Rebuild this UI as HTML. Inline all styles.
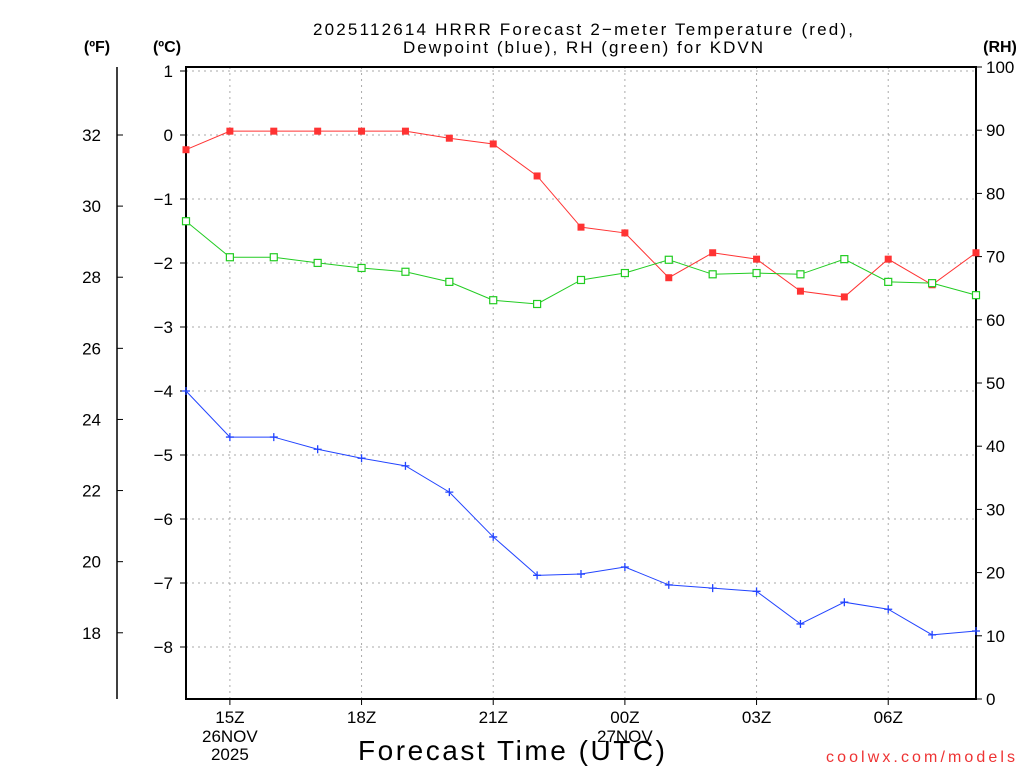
<!DOCTYPE html>
<html><head><meta charset="utf-8">
<style>
html,body{margin:0;padding:0;background:#fff;}
svg{display:block;font-family:"Liberation Sans",sans-serif;}
</style></head>
<body>
<svg id="chart" width="1024" height="768" viewBox="0 0 1024 768" xmlns="http://www.w3.org/2000/svg">
<rect width="1024" height="768" fill="#fff"/>
<g id="grid"></g>
<g id="axes"></g>
<g id="series"></g>
<text x="313" y="35" font-size="17" textLength="540" lengthAdjust="spacing">2025112614 HRRR Forecast 2−meter Temperature (red),</text>
<text x="403" y="53" font-size="17" textLength="360" lengthAdjust="spacing">Dewpoint (blue), RH (green) for KDVN</text>
<text x="97" y="52" font-size="16" font-weight="bold" text-anchor="middle">(ºF)</text>
<text x="167" y="52" font-size="16" font-weight="bold" text-anchor="middle">(ºC)</text>
<text x="1000" y="52" font-size="16" font-weight="bold" text-anchor="middle">(RH)</text>
<text x="358" y="760" font-size="28" textLength="307" lengthAdjust="spacing">Forecast Time (UTC)</text>
<text x="826" y="762" font-size="16" fill="#e33" textLength="189" lengthAdjust="spacing">coolwx.com/models</text>
</svg>
<script>
const hours = [14,15,16,17,18,19,20,21,22,23,24,25,26,27,28,29,30,31,32];
const tempC = [-0.23,0.06,0.06,0.06,0.06,0.06,-0.05,-0.14,-0.64,-1.44,-1.53,-2.23,-1.84,-1.94,-2.44,-2.53,-1.94,-2.34,-1.84];
const dewC = [-4.0,-4.72,-4.72,-4.91,-5.05,-5.17,-5.58,-6.28,-6.88,-6.86,-6.75,-7.03,-7.08,-7.13,-7.64,-7.30,-7.41,-7.81,-7.75];
const rh = [75.6,69.9,69.9,69.0,68.2,67.6,66.0,63.1,62.5,66.3,67.4,69.5,67.2,67.4,67.2,69.6,66.0,65.8,63.9];
const cTicks = [1,0,-1,-2,-3,-4,-5,-6,-7,-8];
const fTicks = [18,20,22,24,26,28,30,32];
const rhTicks = [0,10,20,30,40,50,60,70,80,90,100];
const xTickHours = [15,18,21,24,27,30];
const xTickLabels = ["15Z","18Z","21Z","00Z","03Z","06Z"];

const L=186,R=976,T=67,B=699;
const xS=h=>L+(h-14)*(R-L)/18;
const cS=c=>135-c*64;
const fS=f=>cS((f-32)*5/9);
const rS=v=>B-v*(B-T)/100;
const NS="http://www.w3.org/2000/svg";
function mk(parent,tag,attrs,text){const e=document.createElementNS(NS,tag);for(const k in attrs)e.setAttribute(k,attrs[k]);if(text!==undefined)e.textContent=text;parent.appendChild(e);return e;}
const grid=document.getElementById('grid'),axes=document.getElementById('axes'),ser=document.getElementById('series');

cTicks.forEach(c=>{
  const y=cS(c);
  const g=mk(grid,'line',{x1:L,x2:R,y1:y,y2:y,stroke:'#aaa','stroke-dasharray':'2,4'});
  
  
  mk(axes,'line',{x1:L-6,x2:L,y1:y,y2:y,stroke:'#000'});
  const t=mk(axes,'text',{x:173,y:y+6,'font-size':17,'text-anchor':'end'},c<0?'−'+(-c):String(c));
  
  
});
xTickHours.forEach((h,i)=>{
  const x=xS(h);
  const g=mk(grid,'line',{x1:x,x2:x,y1:T,y2:B,stroke:'#aaa','stroke-dasharray':'2,4'});
  
  
  mk(axes,'line',{x1:x,x2:x,y1:B,y2:B+6,stroke:'#000'});
  const t=mk(axes,'text',{x:x,y:723,'font-size':17,'text-anchor':'middle'},xTickLabels[i]);
  
  
});
[[15,"26NOV"],[24,"27NOV"]].forEach(d=>{
  const t=mk(axes,'text',{x:xS(d[0]),y:742,'font-size':17,'text-anchor':'middle'},d[1]);
  
  
});
const yr=mk(axes,'text',{x:xS(15),y:760,'font-size':17,'text-anchor':'middle'},"2025");



fTicks.forEach(f=>{
  const y=fS(f);
  mk(axes,'line',{x1:117,x2:123,y1:y,y2:y,stroke:'#000'});
  const t=mk(axes,'text',{x:101,y:y+6,'font-size':17,'text-anchor':'end'},String(f));
  
  
});
rhTicks.forEach(v=>{
  const y=rS(v);
  mk(axes,'line',{x1:R,x2:R+6,y1:y,y2:y,stroke:'#000'});
  const t=mk(axes,'text',{x:986,y:y+6,'font-size':17},String(v));
  
  
});
mk(axes,'line',{x1:117,x2:117,y1:T,y2:B,stroke:'#000','stroke-width':1.5});
mk(axes,'rect',{x:L,y:T,width:R-L,height:B-T,fill:'none',stroke:'#000','stroke-width':2});

function line(vals,sc,color,name){
  const p=mk(ser,'polyline',{points:hours.map((h,i)=>xS(h)+','+sc(vals[i])).join(' '),fill:'none',stroke:color,'stroke-width':1});
  
  
}
line(tempC,cS,'#f33','temperature-line');
line(rh,rS,'#2c2','rh-line');
line(dewC,cS,'#24f','dewpoint-line');
hours.forEach((h,i)=>{
  const x=xS(h);
  let y=cS(tempC[i]);
  const a=mk(ser,'rect',{x:x-3.5,y:y-3.5,width:7,height:7,fill:'#f33'});
  
  
  y=rS(rh[i]);
  const b=mk(ser,'rect',{x:x-3.5,y:y-3.5,width:7,height:7,fill:'#fff',stroke:'#2c2','stroke-width':1.2});
  
  
  y=cS(dewC[i]);
  const c=mk(ser,'path',{d:`M${x-4},${y}H${x+4}M${x},${y-4}V${y+4}`,stroke:'#24f','stroke-width':1.3});
  
  
});
</script>
</body></html>
